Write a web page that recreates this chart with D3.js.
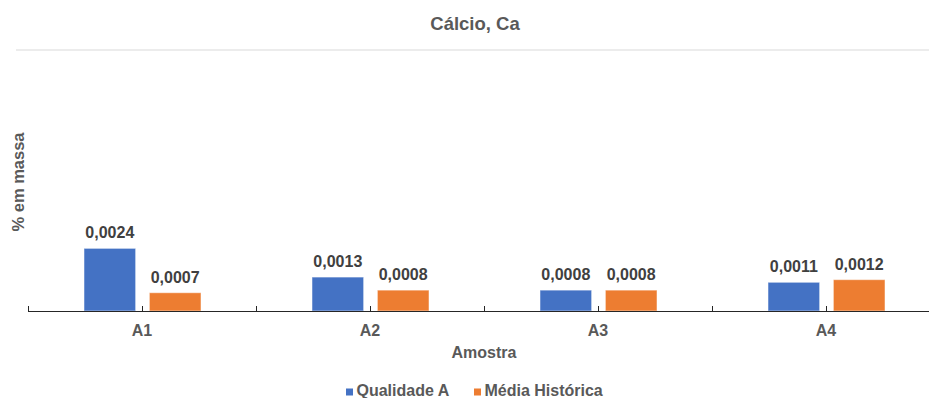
<!DOCTYPE html>
<html>
<head>
<meta charset="utf-8">
<script src="https://cdn.jsdelivr.net/npm/d3@7"></script>
<style>
body { margin: 0; background: #fff; }
svg { display: block; font-family: "Liberation Sans", Arial, sans-serif; }
</style>
</head>
<body>
<script>
const w = 929
const h = 398

const categories = ['A1', 'A2', 'A3', 'A4']
const seriesNames = ['Qualidade A', 'Média Histórica']
const qualidadeA = [0.0024, 0.0013, 0.0008, 0.0011]
const mediaHistorica = [0.0007, 0.0008, 0.0008, 0.0012]
const yTicks = [0, 0.01]
const colors = ['#4472C4', '#ED7D31']

const values = [qualidadeA, mediaHistorica]
const rows = categories.map((c, i) => ({
	cat: c,
	vals: seriesNames.map((s, j) => ({ s, v: values[j][i] }))
}))

const svg = d3.select('body')
	.append('svg')
	.attr('width', w)
	.attr('height', h)

const x0 = d3.scaleBand()
	.domain(categories)
	.range([28, 940])

const x1 = d3.scaleBand()
	.domain(seriesNames)
	.range([56, 173])
	.paddingInner(0.21)

const y = d3.scaleLinear()
	.domain([0, 0.01])
	.range([311, 50])

const fmt = d => d3.format('.4f')(d).replace('.', ',')

// gridline (only the top one shows)
svg.selectAll('.grid')
	.data(yTicks.filter(t => t > 0))
	.enter()
	.append('line')
	.attr('x1', 16)
	.attr('x2', w)
	.attr('y1', d => y(d))
	.attr('y2', d => y(d))
	.attr('stroke', '#d9d9d9')
	.attr('stroke-width', 1)

// title
svg.append('text')
	.attr('x', 475)
	.attr('y', 30)
	.attr('text-anchor', 'middle')
	.attr('font-size', '18.5px')
	.attr('font-weight', 'bold')
	.attr('fill', '#595959')
	.text('Cálcio, Ca')

const groups = svg.selectAll('.grp')
	.data(rows)
	.enter()
	.append('g')
	.attr('transform', d => `translate(${x0(d.cat)},0)`)

groups.selectAll('rect')
	.data(d => d.vals)
	.enter()
	.append('rect')
	.attr('x', d => x1(d.s))
	.attr('y', d => y(d.v))
	.attr('width', x1.bandwidth())
	.attr('height', d => y(0) - y(d.v))
	.attr('fill', (d, i) => colors[i])
	.attr('stroke', '#fff')
	.attr('stroke-opacity', 0.5)
	.attr('stroke-width', 1)

groups.selectAll('.lbl')
	.data(d => d.vals)
	.enter()
	.append('text')
	.attr('x', d => x1(d.s) + x1.bandwidth() / 2)
	.attr('y', d => y(d.v) - 10)
	.attr('text-anchor', 'middle')
	.attr('font-size', '16px')
	.attr('font-weight', 'bold')
	.attr('fill', '#404040')
	.text(d => fmt(d.v))

// x axis: boundary ticks and centre ticks, pointing up
const axis = svg.append('g')
axis.append('line')
	.attr('x1', 28)
	.attr('x2', w)
	.attr('y1', y(0) + 0.5)
	.attr('y2', y(0) + 0.5)
	.attr('stroke', '#262626')
	.attr('stroke-width', 1.2)

const tickXs = categories.flatMap(c => [x0(c), x0(c) + x0.bandwidth() / 2])
axis.selectAll('.tick')
	.data(tickXs)
	.enter()
	.append('line')
	.attr('x1', d => Math.round(d) + 0.5)
	.attr('x2', d => Math.round(d) + 0.5)
	.attr('y1', y(0) - 5)
	.attr('y2', y(0) + 0.5)
	.attr('stroke', '#262626')
	.attr('stroke-width', 1)

axis.selectAll('.catlbl')
	.data(categories)
	.enter()
	.append('text')
	.attr('x', d => x0(d) + x0.bandwidth() / 2)
	.attr('y', 336)
	.attr('text-anchor', 'middle')
	.attr('font-size', '16px')
	.attr('font-weight', 'bold')
	.attr('fill', '#595959')
	.text(d => d)

svg.append('text')
	.attr('x', 484)
	.attr('y', 357.5)
	.attr('text-anchor', 'middle')
	.attr('font-size', '16px')
	.attr('font-weight', 'bold')
	.attr('fill', '#595959')
	.text('Amostra')

svg.append('text')
	.attr('transform', 'translate(23.5,182) rotate(-90)')
	.attr('text-anchor', 'middle')
	.attr('font-size', '16.5px')
	.attr('font-weight', 'bold')
	.attr('fill', '#595959')
	.text('% em massa')

// legend
const legendX = [346, 474]
const legend = svg.selectAll('.leg')
	.data(seriesNames)
	.enter()
	.append('g')
	.attr('transform', (d, i) => `translate(${legendX[i]},0)`)

legend.append('rect')
	.attr('x', 0)
	.attr('y', 388.5)
	.attr('width', 7)
	.attr('height', 7)
	.attr('fill', (d, i) => colors[i])

legend.append('text')
	.attr('x', 10.5)
	.attr('y', 396)
	.attr('font-size', '16px')
	.attr('font-weight', 'bold')
	.attr('fill', '#595959')
	.text(d => d)
</script>
</body>
</html>
